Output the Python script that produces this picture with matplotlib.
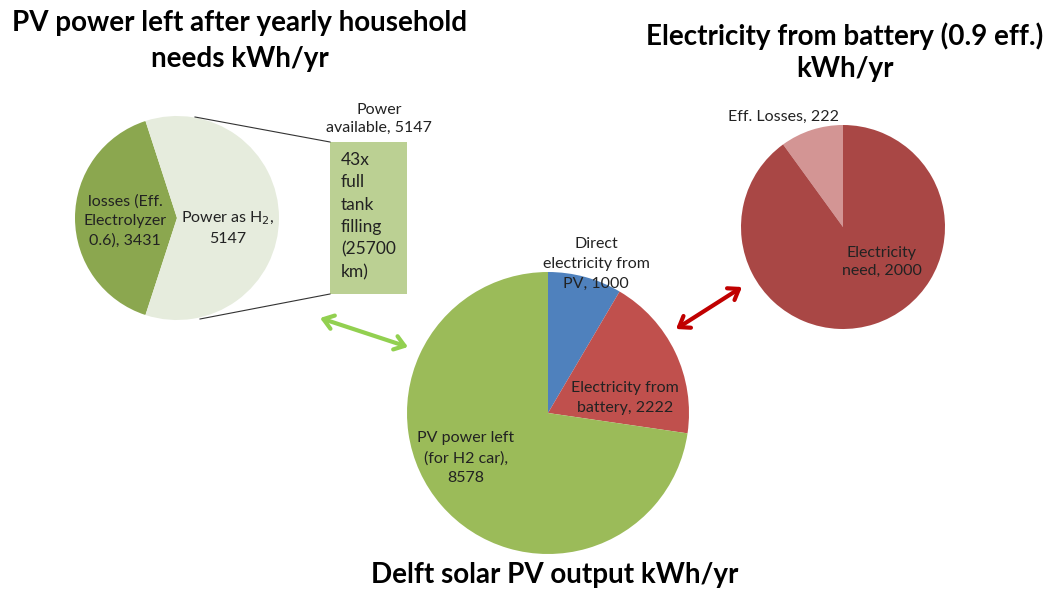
import matplotlib
matplotlib.use('Agg')
import matplotlib.pyplot as plt
from matplotlib.patches import Rectangle, FancyArrowPatch

plt.rcParams['font.family'] = ['Lato', 'DejaVu Sans']

W, H = 1051, 589

# hydrogen pie: losses vs power stored as H2
h2_labels = ['losses (Eff.\nElectrolyzer\n0.6), 3431', 'Power as H$_2$,\n5147']
h2_values = [3431, 5147]
h2_colors = ['#8BA74F', '#E6ECDD']

# total PV output split
pv_labels = ['Direct\nelectricity from\nPV, 1000', 'Electricity from\nbattery, 2222',
             'PV power left\n(for H2 car),\n8578']
pv_values = [1000, 2222, 8578]
pv_colors = ['#4F81BD', '#C0504D', '#9BBB59']

# battery pie
bat_labels = ['Eff. Losses, 222', 'Electricity\nneed, 2000']
bat_values = [222, 2000]
bat_colors = ['#D39594', '#A94745']

tank_text = '43x\nfull\ntank\nfilling\n(25700\nkm)'
box_label = 'Power\navailable, 5147'


def Y(y):
    # image rows counted from the top
    return H - y


fig = plt.figure(figsize=(W / 100, H / 100), dpi=100)
ax = fig.add_axes([0, 0, 1, 1])

lab_fs = 11.5
ls = 1.5
ink = '#222222'

# left pie
ax.pie(h2_values, colors=h2_colors, startangle=108, counterclock=True,
       center=(177, Y(218)), radius=102, frame=True)
ax.text(125, Y(221), h2_labels[0], ha='center', va='center', fontsize=lab_fs,
        linespacing=ls, color=ink)
ax.text(228, Y(228), h2_labels[1], ha='center', va='center', fontsize=lab_fs,
        linespacing=ls, color=ink)

# box with the tank fillings and the zoom lines
ax.add_patch(Rectangle((330, Y(294)), 77, 152, facecolor='#BBD093', edgecolor='none'))
ax.plot([195, 330], [Y(117), Y(142)], color='#333333', lw=0.8)
ax.plot([200, 330], [Y(319), Y(294)], color='#333333', lw=0.8)
ax.text(341, Y(216), tank_text, ha='left', va='center', fontsize=12.5,
        linespacing=1.5, color=ink)
ax.text(379, Y(119), box_label, ha='center', va='center', fontsize=lab_fs,
        linespacing=1.35, color=ink)

# center pie
ax.pie(pv_values, colors=pv_colors, startangle=90, counterclock=False,
       center=(548, Y(413)), radius=141, frame=True)
ax.text(596, Y(264), pv_labels[0], ha='center', va='center', fontsize=lab_fs,
        linespacing=ls, color=ink)
ax.text(625, Y(398), pv_labels[1], ha='center', va='center', fontsize=lab_fs,
        linespacing=ls, color=ink)
ax.text(466, Y(458), pv_labels[2], ha='center', va='center', fontsize=lab_fs,
        linespacing=ls, color=ink)

# right pie
ax.pie(bat_values, colors=bat_colors, startangle=90, counterclock=True,
       center=(843, Y(227)), radius=102, frame=True)
ax.text(783, Y(117), bat_labels[0], ha='center', va='center', fontsize=lab_fs,
        color=ink)
ax.text(882, Y(262), bat_labels[1], ha='center', va='center', fontsize=lab_fs,
        linespacing=1.4, color=ink)

# double arrows linking the pies
ax.add_patch(FancyArrowPatch((320, Y(318)), (408, Y(347)), arrowstyle='<->,head_length=7,head_width=5',
                             color='#92D050', lw=3, shrinkA=0, shrinkB=0))
ax.add_patch(FancyArrowPatch((676, Y(329)), (742, Y(287)), arrowstyle='<->,head_length=7,head_width=5',
                             color='#C00000', lw=3, shrinkA=0, shrinkB=0))

# titles
ax.text(240, Y(41), 'PV power left after yearly household\nneeds kWh/yr', ha='center',
        va='center', fontsize=20, fontweight='bold', linespacing=1.45, color='black')
ax.text(845, Y(52), 'Electricity from battery (0.9 eff.)\nkWh/yr', ha='center',
        va='center', fontsize=20, fontweight='bold', linespacing=1.3, color='black')
ax.text(555, Y(575), 'Delft solar PV output kWh/yr', ha='center', va='center',
        fontsize=20, fontweight='bold', color='black')

ax.set_xlim(0, W)
ax.set_ylim(0, H)
ax.set_aspect('auto')
ax.set_axis_off()

fig.savefig('out.png', dpi=100)
